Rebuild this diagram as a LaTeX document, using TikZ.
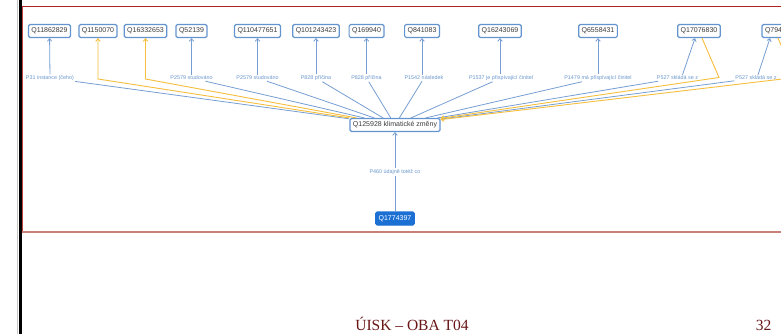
\documentclass[tikz,border=0pt]{standalone}
\usepackage{fontspec}
\setmainfont{Liberation Serif}
\newfontfamily\arial{Liberation Sans}
\usetikzlibrary{arrows.meta}
\definecolor{boxblue}{RGB}{100,148,208}
\definecolor{lineblue}{RGB}{118,158,210}
\definecolor{labblue}{RGB}{105,150,205}
\definecolor{yel}{RGB}{245,190,60}
\definecolor{boxtext}{RGB}{60,60,60}
\definecolor{darkblue}{RGB}{28,112,212}
\definecolor{redtop}{RGB}{178,34,34}
\definecolor{redbot}{RGB}{200,128,118}
\definecolor{footred}{RGB}{105,22,22}
\tikzset{
  qbox/.style={draw=boxblue, line width=1.2pt, rounded corners=1.5pt, fill=white,
    font=\arial\fontsize{7}{8}\selectfont, text=boxtext, inner xsep=3pt, inner ysep=0pt,
    minimum height=13pt},
  lab/.style={font=\arial\fontsize{5.4}{6}\selectfont, text=labblue, inner sep=1pt},
  bl/.style={draw=lineblue, line width=0.8pt},
  yl/.style={draw=yel, line width=0.9pt},
  >={Straight Barb[length=2.6pt,width=4.5pt]}
}
\begin{document}
\begin{tikzpicture}[x=1pt,y=-1pt]
\useasboundingbox (0,0) rectangle (781,334);
\clip (0,0) rectangle (781,334);
% frame lines
\draw[gray!45, line width=1pt] (17.6,0) -- (17.6,334);
\draw[black, line width=2.6pt] (20.2,0) -- (20.2,334);
\draw[redtop, line width=1.2pt] (21.5,6.7) -- (781,6.7);
\draw[redtop!85, line width=1pt] (22.1,6.7) -- (22.1,232);
\draw[redbot, line width=2pt] (21.5,232) -- (781,232);
% top boxes
\node[qbox] (q1) at (49.5,31) {Q11862829};
\node[qbox] (q2) at (98,31) {Q1150070};
\node[qbox] (q3) at (145.5,31) {Q16332653};
\node[qbox] (q4) at (191.5,31) {Q52139};
\node[qbox] (q5) at (257.5,31) {Q110477651};
\node[qbox] (q6) at (316,31) {Q101243423};
\node[qbox] (q7) at (366.5,31) {Q169940};
\node[qbox] (q8) at (422,31) {Q841083};
\node[qbox] (q9) at (500,31) {Q16243069};
\node[qbox] (q10) at (598,31) {Q6558431};
\node[qbox] (q11) at (699,31) {Q17076830};
\node[qbox, minimum width=44pt, text width=38pt, align=left] (q12) at (784,31) {Q794};
% labels
\node[lab] (l1) at (50,78) {P31 instance (čeho)};
\node[lab] (l4) at (191.5,78) {P2579 studováno};
\node[lab] (l5) at (257.5,78) {P2579 studováno};
\node[lab] (l6) at (316,78) {P828 příčina};
\node[lab] (l7) at (366.5,78) {P828 příčina};
\node[lab] (l8) at (424,78) {P1542 následek};
\node[lab] (l9) at (501,78) {P1537 je přispívající činitel};
\node[lab] (l10) at (598,78) {P1479 má přispívající činitel};
\node[lab] (l11) at (677.5,78) {P527 skládá se z};
\node[lab] (l12) at (756,78) {P527 skládá se z};
% centre and bottom
\node[qbox] (c) at (395,125) {Q125928 klimatické změny};
\node[lab] (l0) at (395,172) {P460 údajně totéž co};
\node[qbox, fill=darkblue, draw=darkblue, text=white] (q0) at (395,218.5) {Q1774397};
% yellow corners
\coordinate (y2) at (98,79);
\coordinate (y3) at (145.5,79);
\coordinate (y11) at (719,77.5);
\coordinate (y12) at (795,77.5);
% label to box arrows
\draw[bl,->] (l1) -- (q1);
\draw[bl,->] (l4) -- (q4);
\draw[bl,->] (l5) -- (q5);
\draw[bl,->] (l6) -- (q6);
\draw[bl,->] (l7) -- (q7);
\draw[bl,->] (l8.north -| q8) -- (q8);
\draw[bl,->] (l9.north -| q9) -- (q9);
\draw[bl,->] (l10) -- (q10);
\draw[bl,->] ([xshift=5pt]l11.north) -- ([xshift=-4pt]q11.south);
\draw[bl,->] ([xshift=2pt]l12.north) -- ([xshift=-14pt]q12.south);
% label to centre lines
\foreach \l in {l1,l4,l5,l6,l7,l8,l9,l10,l11,l12}
  \draw[bl] (\l) -- (c);
% yellow edges
\draw[yl,->] (c) -- (y2) -- (q2);
\draw[yl,->] (c) -- (y3) -- (q3);
\draw[yl,->] ([xshift=3pt]q11.south) -- (y11) -- (c);
\draw[yl,->] ([xshift=-6pt]q12.south) -- (y12) -- (c);
% bottom edge
\draw[bl] (q0) -- (l0);
\draw[bl,->] (l0) -- (c);
% footer
\node[font=\fontsize{15.5}{18}\selectfont, text=footred, anchor=base, inner sep=0pt] (foot) at (412,330) {ÚISK – OBA T04};
\node[font=\fontsize{15.5}{18}\selectfont, text=footred, anchor=base, inner sep=0pt] (pg) at (763.5,330) {32};
\end{tikzpicture}
\end{document}
